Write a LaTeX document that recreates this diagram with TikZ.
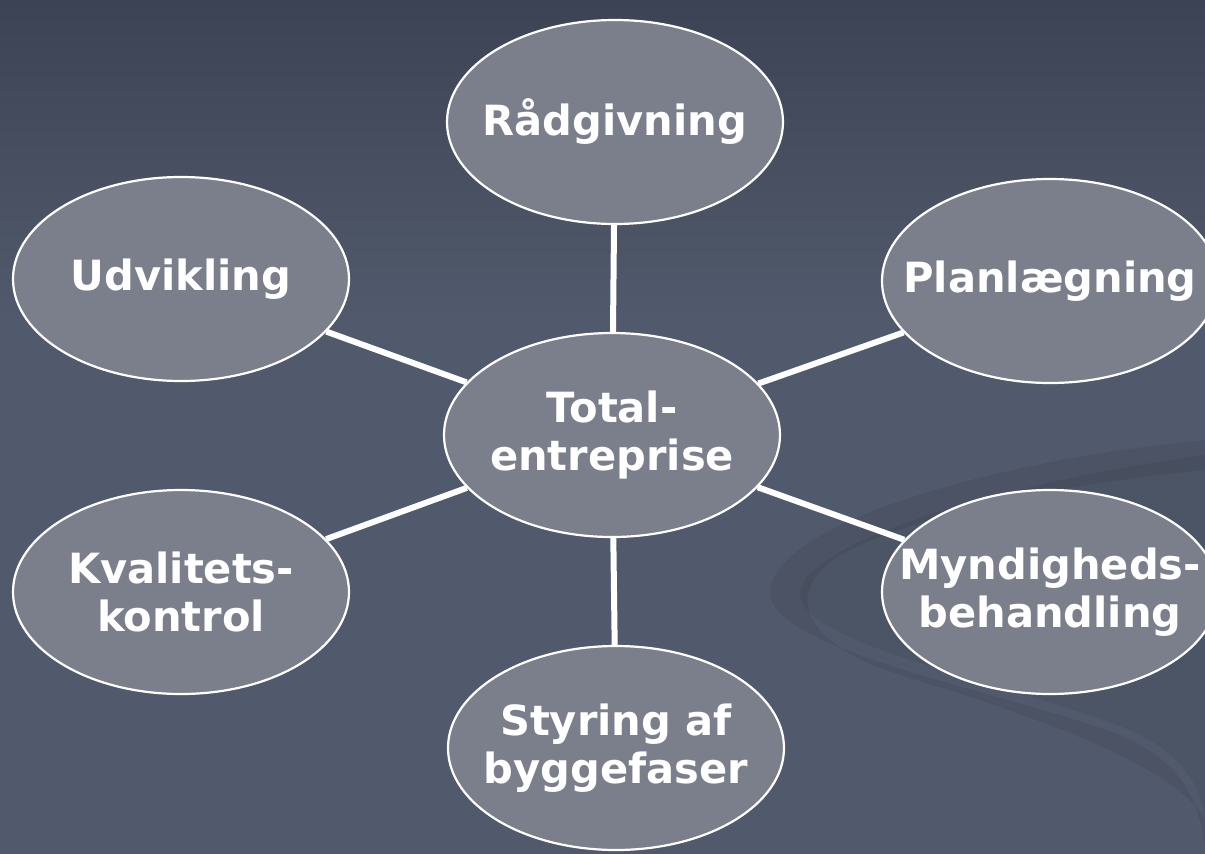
\documentclass[tikz,border=0pt]{standalone}
\usepackage{fontspec}
\setmainfont{DejaVu Sans}
\usetikzlibrary{shapes.geometric}
\definecolor{bgtop}{HTML}{3C4354}
\definecolor{bgbot}{HTML}{515A6C}
\definecolor{oval}{HTML}{7A7F8B}
\begin{document}
\begin{tikzpicture}[x=1pt,y=-1pt,
		bubble/.style={ellipse,draw=white,line width=2.2pt,fill=oval,minimum width=336pt,minimum height=204pt,inner xsep=-45pt,inner ysep=0pt,align=center,text=white,font=\fontsize{41.6}{48}\selectfont\bfseries},
		spoke/.style={white,line width=6pt}]
	\useasboundingbox(0,0)rectangle(1205,854);
	\clip(0,0)rectangle(1205,854);
	\fill[bgbot](0,0)rectangle(1205,854);
	\shade[top color=bgtop,bottom color=bgbot](0,0)rectangle(1205,320);
	% swoosh
	\fill[black,opacity=0.07](1205,440)..controls(1000,460)and(780,520)..(770,590)..controls(765,650)and(1000,690)..(1120,735)..controls(1190,765)and(1200,810)..(1205,850)--(1205,820)..controls(1180,770)and(1050,720)..(900,675)..controls(790,640)and(780,580)..(860,545)..controls(950,505)and(1100,480)..(1205,470)--cycle;
	\fill[black,opacity=0.05](1205,455)..controls(1020,480)and(800,540)..(800,595)..controls(805,645)and(1000,680)..(1130,730)..controls(1195,760)and(1205,800)..(1205,830)--cycle;
	% nodes
	\node[bubble](total)at(612,435){Total-\\entreprise};
	\node[bubble](radg)at(615,122){Rådgivning};
	\node[bubble](udv)at(181,279){Udvikling};
	\node[bubble](plan)at(1050,281){Planlægning};
	\node[bubble](kval)at(181,592){Kvalitets-\\kontrol};
	\node[bubble](mynd)at(1050,592){Myndigheds-\\behandling};
	\node[bubble](styr)at(616,748){Styring af\\byggefaser};
	\foreach \n in{radg,udv,plan,kval,mynd,styr}
	\draw[spoke](total)--(\n);
\end{tikzpicture}
\end{document}
